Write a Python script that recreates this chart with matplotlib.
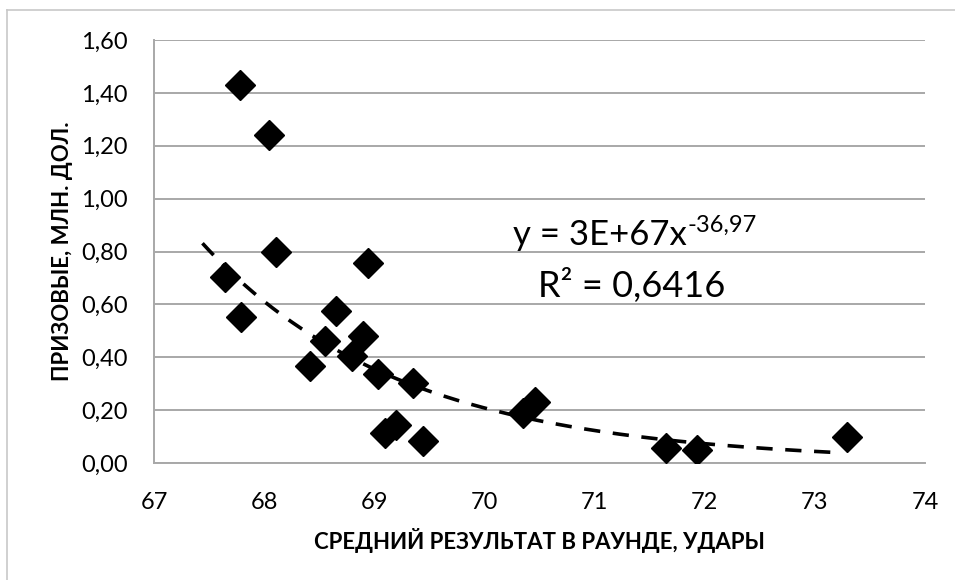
import matplotlib.pyplot as plt
import numpy as np

# Average score per round vs prize money (mln $)
avg_score = [67.78, 68.04, 68.11, 67.645, 67.79, 68.65, 68.55, 68.42, 68.80, 68.90,
             68.94, 69.03, 69.10, 69.20, 69.35, 69.44, 70.35, 70.46, 71.65, 71.93, 73.29]
prize = [1.43, 1.24, 0.80, 0.705, 0.551, 0.575, 0.463, 0.368, 0.405, 0.48,
         0.756, 0.337, 0.112, 0.144, 0.304, 0.083, 0.19, 0.232, 0.057, 0.05, 0.10]

x_ticks = [67, 68, 69, 70, 71, 72, 73, 74]
y_ticks = [0.0, 0.2, 0.4, 0.6, 0.8, 1.0, 1.2, 1.4, 1.6]
trend_range = (67.44, 73.2)

plt.rcParams['font.family'] = ['Lato', 'DejaVu Sans']

fig = plt.figure(figsize=(9.55, 5.8), dpi=100)
# outer chart frame (top and left edges)
fig.add_artist(plt.Line2D([7 / 955, 1.0], [1 - 10 / 580] * 2, color='#c8c8c8', lw=1.2))
fig.add_artist(plt.Line2D([7 / 955] * 2, [0.0, 1 - 10 / 580], color='#c8c8c8', lw=1.2))

ax = fig.add_axes([154 / 955, 1 - 463 / 580, (925 - 154) / 955, (463 - 40) / 580])

# power trendline fitted in log-log space
b, ln_a = np.polyfit(np.log(avg_score), np.log(prize), 1)
tx = np.linspace(trend_range[0], trend_range[1], 200)
ax.plot(tx, np.exp(ln_a) * tx ** b, color='black', lw=2.6, linestyle=(0, (4.5, 3.5)), zorder=2)

ax.plot(avg_score, prize, linestyle='none', marker='D', markersize=15,
        color='black', zorder=3)

ax.set_xlim(67, 74)
ax.set_ylim(0, 1.6)
ax.set_xticks(x_ticks)
ax.set_yticks(y_ticks)
ax.set_xticklabels([str(t) for t in x_ticks])
ax.set_yticklabels([f'{t:.2f}'.replace('.', ',') for t in y_ticks])
ax.tick_params(length=0, labelsize=17, pad=0)
ax.tick_params(axis='y', pad=19)
ax.tick_params(axis='x', pad=21)

ax.grid(axis='y', color='#a8a8a8', lw=1.4)
ax.set_axisbelow(True)
for side in ['top', 'right']:
    ax.spines[side].set_visible(False)
for side in ['left', 'bottom']:
    ax.spines[side].set_color('#a8a8a8')
    ax.spines[side].set_linewidth(1.4)

ax.set_xlabel('СРЕДНИЙ РЕЗУЛЬТАТ В РАУНДЕ, УДАРЫ', fontsize=16, fontweight='bold', labelpad=11)
ax.set_ylabel('ПРИЗОВЫЕ, МЛН. ДОЛ.', fontsize=16, fontweight='bold', labelpad=6)

# trendline equation, exponent set as a raised smaller label
eq = ax.text(71.84, 0.862, 'y = 3E+67x', fontsize=25, ha='right', va='center')
ax.annotate('-36,97', xy=(1.0, 0.8), xycoords=eq, fontsize=17, ha='left', va='center')
ax.text(71.34, 0.673, 'R² = 0,6416', fontsize=26, ha='center', va='center')

fig.savefig('out.png', dpi=100)
